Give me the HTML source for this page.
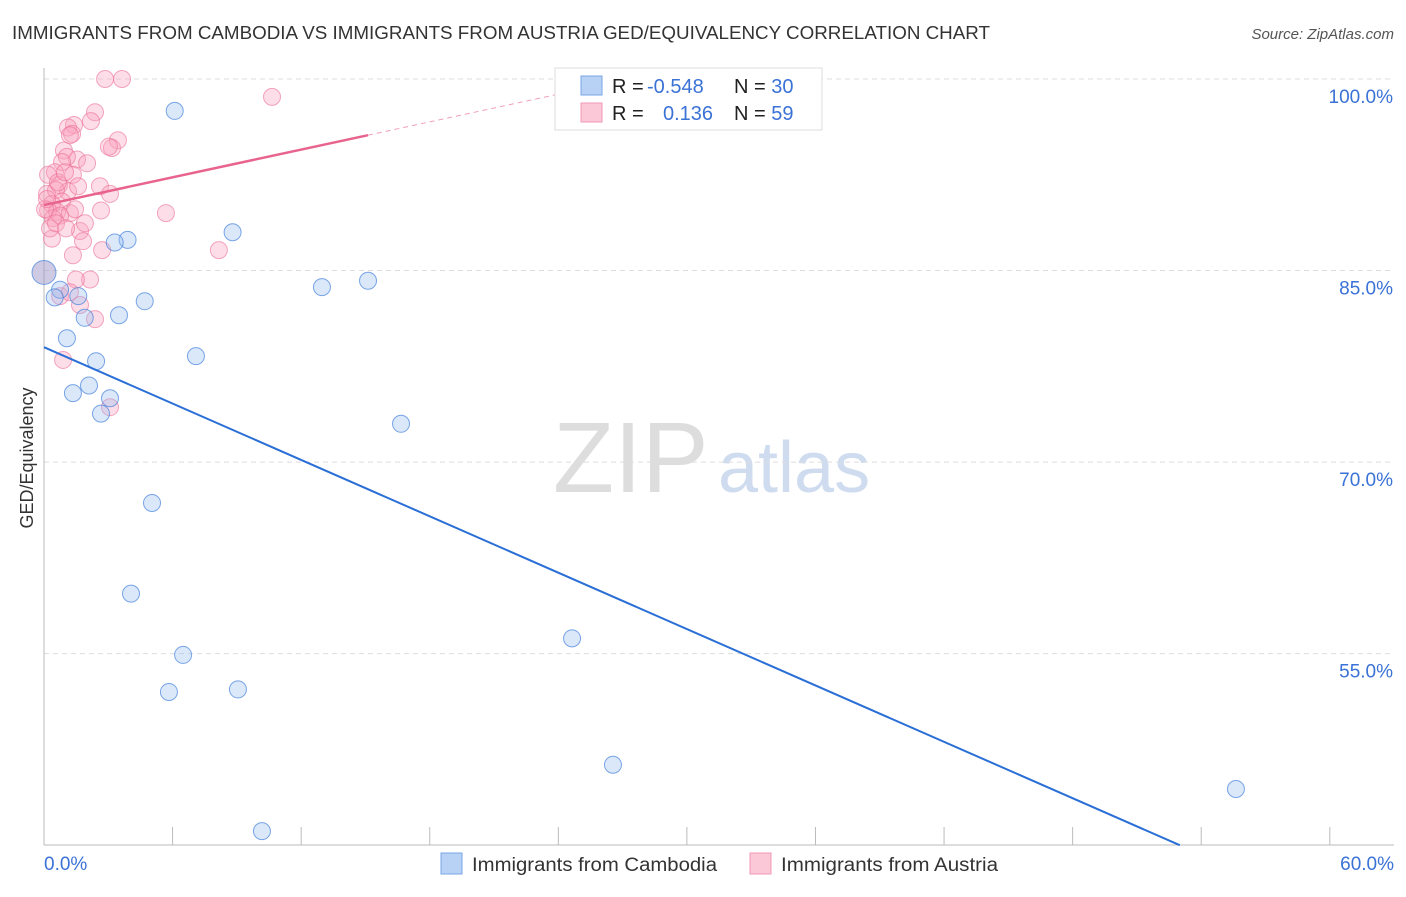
<!DOCTYPE html>
<html><head><meta charset="utf-8"><style>
body{margin:0;background:#fff;font-family:"Liberation Sans",sans-serif}
svg text{font-family:"Liberation Sans",sans-serif}
</style></head><body>
<svg id="chart" width="1406" height="892">
<text x="12" y="39" font-size="18" fill="#333" textLength="978" lengthAdjust="spacingAndGlyphs">IMMIGRANTS FROM CAMBODIA VS IMMIGRANTS FROM AUSTRIA GED/EQUIVALENCY CORRELATION CHART</text>
<text x="1394" y="39" font-size="15" fill="#555" text-anchor="end" font-style="italic">Source: ZipAtlas.com</text>
<text x="33" y="458" font-size="18" fill="#333" text-anchor="middle" transform="rotate(-90 33 458)">GED/Equivalency</text>
<g><text x="553" y="492" font-size="100" fill="#ddd" font-family="Liberation Serif">ZIP</text><text x="718" y="492" font-size="72" fill="#cfdcf0">atlas</text></g>
<g id="grid"></g><g id="axes"></g><g id="marks"></g>
<g>
<rect x="555" y="68" width="267" height="62" fill="#fff" stroke="#ddd"/>
<rect x="581" y="76" width="21" height="19" fill="#b8d2f5" stroke="#7aa6e6"/>
<rect x="581" y="103" width="21" height="19" fill="#fbc8d8" stroke="#f099b5"/>
<text x="612" y="93" font-size="20" fill="#222">R = <tspan fill="#3a72d6" x="647">-0.548</tspan><tspan x="734">N = </tspan><tspan fill="#3a72d6">30</tspan></text>
<text x="612" y="120" font-size="20" fill="#222">R = <tspan fill="#3a72d6" x="663">0.136</tspan><tspan x="734">N = </tspan><tspan fill="#3a72d6">59</tspan></text>
</g>
<g>
<rect x="441" y="853" width="21" height="21" fill="#b8d2f5" stroke="#7aa6e6"/>
<text x="472" y="871" font-size="19" fill="#333" textLength="245" lengthAdjust="spacingAndGlyphs">Immigrants from Cambodia</text>
<rect x="750" y="853" width="21" height="21" fill="#fbc8d8" stroke="#f099b5"/>
<text x="781" y="871" font-size="19" fill="#333" textLength="217" lengthAdjust="spacingAndGlyphs">Immigrants from Austria</text>
</g>
</svg>
<script>
const yTicks=[100,85,70,55];
const xTickLabels=["0.0%","60.0%"];
const blueX=[6.1,8.8,3.9,3.3,0,0.75,0.5,1.6,4.7,3.5,1.9,12.97,15.12,1.07,7.09,2.43,2.1,1.35,3.08,2.66,16.66,5.04,4.06,24.64,6.49,5.83,9.05,26.55,55.62,10.17];
const blueY=[97.5,88.0,87.4,87.2,84.85,83.5,82.9,83.0,82.6,81.5,81.3,83.7,84.2,79.7,78.3,77.9,76.0,75.4,75.0,73.8,73.0,66.8,59.7,56.2,54.9,52.0,52.2,46.3,44.4,41.1];
const pinkX=[2.85,3.64,10.64,2.38,2.19,1.4,1.12,1.31,1.21,3.45,3.17,3.03,0.93,1.54,2.01,1.07,0.84,1.35,0.51,0.70,1.12,2.61,3.08,0.14,0.56,0.84,0.37,0.19,0.61,1.21,5.69,2.66,0.75,0.42,1.68,1.82,0.37,2.71,1.35,8.16,2.15,1.49,0.75,1.21,1.68,2.38,0.89,3.08,0.19,0.05,0.14,0.65,0.98,1.45,0.28,1.91,0.56,1.59,1.03];
const pinkY=[100,100,98.6,97.4,96.7,96.4,96.2,95.7,95.6,95.2,94.6,94.7,94.4,93.7,93.4,93.9,93.5,92.5,92.7,91.7,91.2,91.6,91.0,91.0,91.3,90.4,90.2,89.7,89.6,89.5,89.5,89.7,89.3,89.1,88.1,87.3,87.5,86.6,86.2,86.6,84.3,84.3,83.0,83.3,82.3,81.2,78.0,74.3,92.5,89.8,90.6,91.9,92.7,89.8,88.3,88.7,88.7,91.6,88.3];
const blueTrend=[79.0,40.0]; // y at x=0 and x=53
const pinkTrend=[90.13,95.6]; // y at x=0 and x=15.12
const NS="http://www.w3.org/2000/svg";
const X=v=>44+v*21.43, Y=v=>79+(100-v)*12.77;
function mk(p,t,a){const e=document.createElementNS(NS,t);for(const k in a)e.setAttribute(k,a[k]);p.appendChild(e);return e;}
const grid=document.getElementById('grid'),axes=document.getElementById('axes'),marks=document.getElementById('marks');
yTicks.forEach(v=>{
 const l=mk(grid,'line',{x1:44,x2:1394,y1:Y(v),y2:Y(v),stroke:'#ddd','stroke-dasharray':'5,4'});
 
 
 const t=mk(grid,'text',{x:1393,y:Y(v)+24,'font-size':19,fill:'#3a72d6','text-anchor':'end'});t.textContent=v.toFixed(1)+'%';
 
 
});
const ya=mk(axes,'line',{x1:44,x2:44,y1:68,y2:845,stroke:'#bbb'});


const xa=mk(axes,'line',{x1:44,x2:1394,y1:845,y2:845,stroke:'#bbb'});


for(let i=0;i<=10;i++){const tk=mk(axes,'line',{x1:X(i*6),x2:X(i*6),y1:827,y2:845,stroke:'#bbb'});
 
 }
[[0,'start',44],[1,'end',1394]].forEach(([i,a,x])=>{const t=mk(axes,'text',{x:x,y:870,'font-size':19,fill:'#3a72d6','text-anchor':a});t.textContent=xTickLabels[i];
 
 });
pinkX.forEach((x,i)=>{const c=mk(marks,'circle',{cx:X(x),cy:Y(pinkY[i]),r:8.5,fill:'rgba(248,160,188,0.35)',stroke:'rgba(235,110,150,0.6)'});
 
 });
blueX.forEach((x,i)=>{const c=mk(marks,'circle',{cx:X(x),cy:Y(blueY[i]),r:i==4?12:8.5,fill:i==4?'rgba(160,150,200,0.5)':'rgba(150,190,240,0.35)',stroke:'rgba(70,130,220,0.7)'});
 
 });
const slopeP=(pinkTrend[1]-pinkTrend[0])/15.12;
const pd=mk(marks,'line',{x1:X(15.12),y1:Y(pinkTrend[1]),x2:X(25),y2:Y(pinkTrend[0]+slopeP*25),stroke:'#f0a0b8','stroke-dasharray':'5,4'});


const pl=mk(marks,'line',{x1:X(0),y1:Y(pinkTrend[0]),x2:X(15.12),y2:Y(pinkTrend[1]),stroke:'#e8648e','stroke-width':2.5});


const bl=mk(marks,'line',{x1:X(0),y1:Y(blueTrend[0]),x2:X(53),y2:Y(blueTrend[1]),stroke:'#2a6fd6','stroke-width':2});


</script>
</body></html>
